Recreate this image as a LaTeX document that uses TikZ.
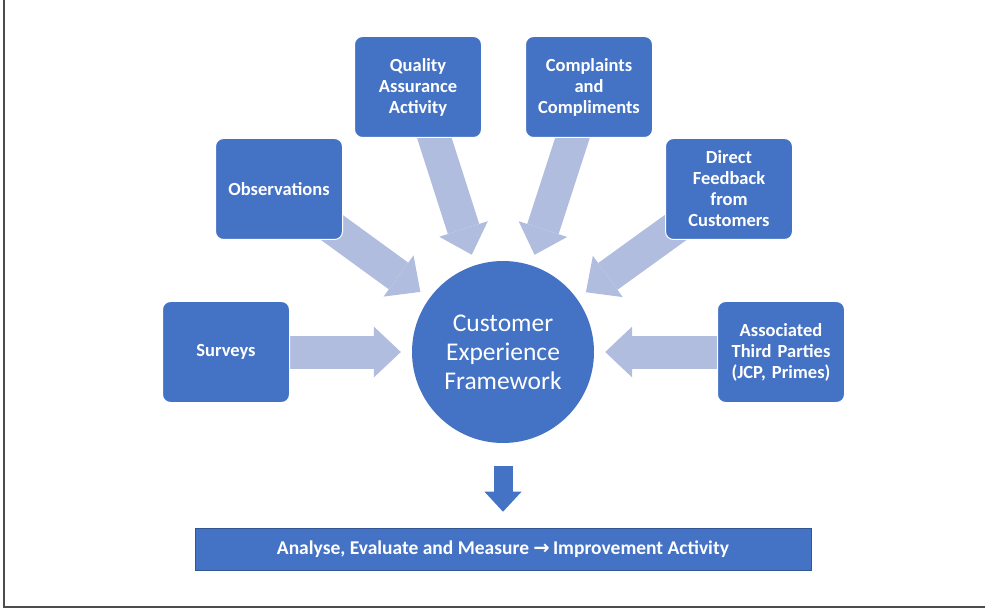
\documentclass[tikz,border=0pt]{standalone}
\usepackage{fontspec}
\setmainfont{Carlito}
\newfontfamily\arrowfont{DejaVu Sans}
\usepackage{tikz}
\usetikzlibrary{arrows.meta,positioning}
\definecolor{boxblue}{HTML}{4472C4}
\definecolor{paleblue}{HTML}{B0BDDF}
\pgfdeclarelayer{bg}
\pgfsetlayers{bg,main}

\begin{document}
\begin{tikzpicture}[
    x=1pt, y=-1pt,
    node distance=277pt,
    source/.style={rectangle, draw=white, line width=1pt, fill=boxblue, text=white, text width=122pt, align=center, rounded corners=8pt, minimum width=127pt, minimum height=101pt, inner sep=2pt, font=\fontsize{18.5}{21}\selectfont\bfseries},
    hub/.style={circle, fill=boxblue, text=white, minimum size=182pt, inner sep=0pt, align=center, font=\fontsize{25.5}{29}\selectfont},
    result/.style={rectangle, draw=boxblue!75!black, line width=0.6pt, fill=boxblue, text=white, minimum width=616pt, minimum height=42pt, font=\fontsize{19.5}{22}\selectfont\bfseries},
    feed/.style={paleblue, line width=33pt, -{Triangle[width=51pt, length=27pt, line width=0pt]}, shorten >=11pt},
    outflow/.style={boxblue, line width=19pt, -{Triangle[width=37pt, length=20pt, line width=0pt]}, shorten <=23pt, shorten >=16pt},
    frame/.style={draw=black!70, line width=1.2pt}
]
    \useasboundingbox (0,0) rectangle (985,612);
    \draw[frame] (4,0) -- (4,607) -- (985,607);

    % Nodes
    \node[hub] (cef) at (503,352) {Customer\\Experience\\Framework};
    \node[source, left of=cef] (surveys) {Surveys};
    \node[source, left of=cef, xshift=53pt, yshift=163pt] (obs) {Observations};
    \node[source, above of=cef, xshift=-85pt, yshift=-12pt] (qa) {Quality\\Assurance\\Activity};
    \node[source, node distance=171pt, right of=qa] (cc) {Complaints\\and\\Compliments};
    \node[source, right of=cef, xshift=-51pt, yshift=163pt] (dfc) {Direct\\Feedback\\from\\Customers};
    \node[source, right of=cef, xshift=1pt] (atp) {Associated\\Third Parties\\(JCP, Primes)};
    \node[result, node distance=197pt, below of=cef] (act) {Analyse, Evaluate and Measure {\arrowfont\bfseries →}\,Improvement Activity};

    % Arrows
    \begin{pgfonlayer}{bg}
    \draw[feed] (surveys.center) -- (cef);
    \draw[feed] (obs.center) -- (cef);
    \draw[feed] (qa.center) -- (cef);
    \draw[feed] (cc.center) -- (cef);
    \draw[feed] (dfc.center) -- (cef);
    \draw[feed] (atp.center) -- (cef);
    \end{pgfonlayer}
    \draw[outflow] (cef) -- (act);
\end{tikzpicture}
\end{document}
